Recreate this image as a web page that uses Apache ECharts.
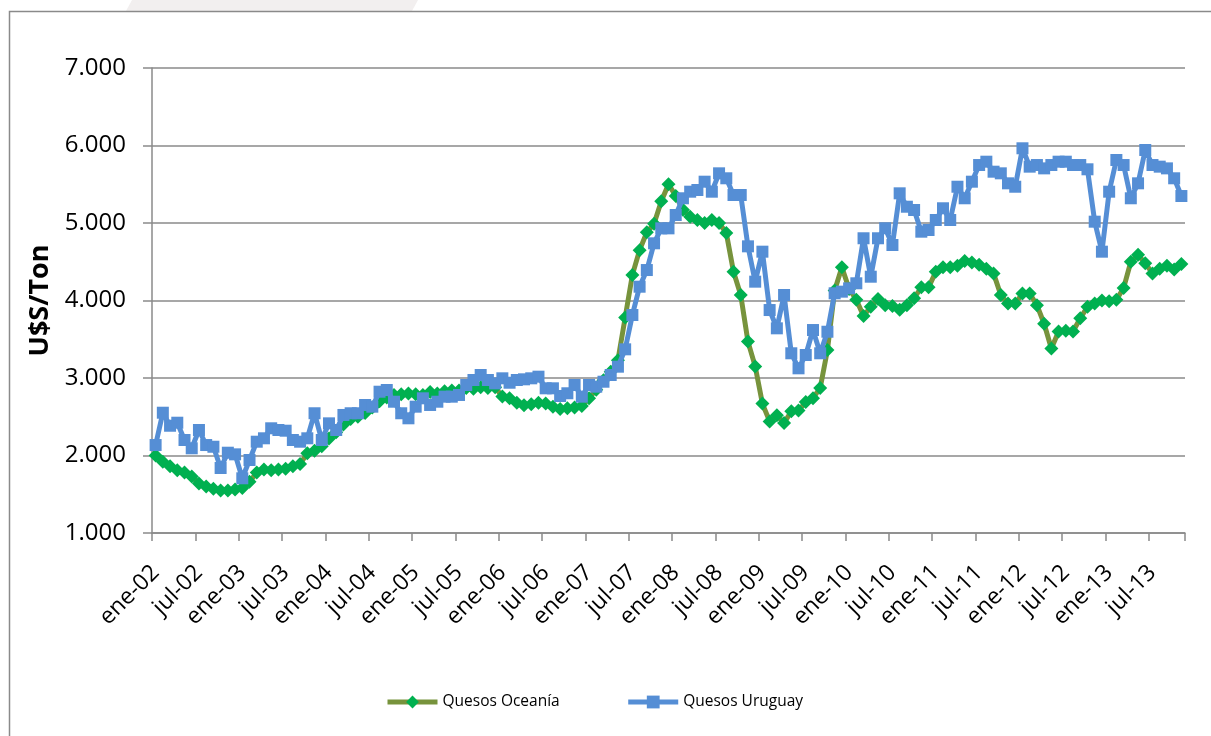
<!DOCTYPE html>
<html>
<head>
<meta charset="utf-8">
<script src="https://cdn.jsdelivr.net/npm/echarts@6/dist/echarts.min.js"></script>
<style>
html,body{margin:0;padding:0;background:#fff;}
#chart{width:1211px;height:736px;}
</style>
</head>
<body>
<div id="chart"></div>
<script>
// Month names and years used for the category labels
const monthNames = ['ene','feb','mar','abr','may','jun','jul','ago','sep','oct','nov','dic'];
const years = ['02','03','04','05','06','07','08','09','10','11','12','13'];
const lastMonthIndex = 10; // the series end in nov-13

const yTicks = [1000, 2000, 3000, 4000, 5000, 6000, 7000];

// Quesos Oceanía (US$/Ton), monthly ene-02 .. nov-13
const quesosOceania = [
  2000,1920,1860,1810,1780,1730,1640,1600,1570,1550,1550,1560,
  1580,1660,1780,1820,1810,1820,1830,1860,1890,2030,2060,2120,
  2220,2300,2400,2470,2500,2550,2620,2700,2750,2780,2790,2800,
  2790,2780,2820,2800,2830,2840,2840,2870,2860,2880,2870,2880,
  2760,2740,2680,2650,2660,2680,2670,2630,2600,2610,2620,2640,
  2740,2850,2970,3080,3230,3780,4330,4650,4880,4990,5280,5500,
  5350,5170,5080,5040,5000,5040,5000,4870,4370,4070,3470,3150,
  2670,2440,2520,2420,2570,2580,2690,2740,2870,3360,4130,4430,
  4150,4010,3800,3920,4020,3940,3930,3880,3940,4030,4170,4170,
  4370,4430,4430,4450,4510,4490,4460,4410,4350,4070,3960,3960,
  4090,4090,3940,3700,3380,3600,3610,3600,3770,3920,3960,4000,
  3990,4010,4160,4500,4590,4480,4350,4410,4450,4400,4470
];

// Quesos Uruguay (US$/Ton), monthly ene-02 .. nov-13
const quesosUruguay = [
  2135,2552,2384,2423,2200,2093,2329,2135,2113,1839,2036,2015,
  1706,1942,2178,2222,2351,2329,2320,2200,2178,2222,2545,2200,
  2415,2329,2523,2545,2545,2652,2630,2823,2845,2694,2545,2480,
  2630,2738,2652,2694,2759,2759,2781,2910,2974,3039,2974,2931,
  2996,2939,2974,2983,2996,3017,2867,2867,2768,2803,2910,2759,
  2910,2888,2952,3039,3146,3370,3813,4178,4393,4738,4931,4931,
  5103,5319,5404,5426,5533,5404,5641,5577,5361,5361,4699,4243,
  4630,3877,3641,4071,3319,3125,3297,3619,3319,3597,4093,4114,
  4157,4222,4803,4307,4803,4932,4716,5383,5210,5168,4888,4910,
  5039,5190,5039,5468,5319,5533,5748,5791,5662,5641,5512,5468,
  5964,5727,5748,5705,5748,5791,5791,5748,5748,5693,5017,4630,
  5404,5813,5748,5319,5512,5942,5748,5727,5705,5577,5348
];

const categories = [];
years.forEach((y, yi) => {
  monthNames.forEach((m, mi) => {
    if (yi === years.length - 1 && mi > lastMonthIndex) return;
    categories.push(m + '-' + y);
  });
});

const FONT = "'Open Sans', 'Liberation Sans', sans-serif";
const GRID_COLOR = '#8a8a8a';

const chart = echarts.init(document.getElementById('chart'), null, {renderer: 'canvas'});
chart.setOption({
  backgroundColor: '#ffffff',
  animation: false,
  textStyle: {fontFamily: FONT},
  graphic: [
    {
      type: 'polygon',
      shape: {points: [[132, 0], [418, 0], [412, 11], [126, 11]]},
      style: {fill: '#f2efef', stroke: null},
      z: 0
    },
    {
      type: 'rect',
      shape: {x: 9.5, y: 11.5, width: 1300, height: 800},
      style: {fill: null, stroke: GRID_COLOR, lineWidth: 1.5},
      z: 1
    }
  ],
  legend: {
    left: 380,
    top: 689,
    itemWidth: 50,
    itemHeight: 16,
    itemGap: 66,
    textStyle: {fontFamily: FONT, fontSize: 15.5, color: '#000'},
    lineStyle: {width: 5},
    data: ['Quesos Oceanía', 'Quesos Uruguay']
  },
  grid: {left: 152, right: 26, top: 68, bottom: 203, containLabel: false},
  xAxis: {
    type: 'category',
    data: categories,
    boundaryGap: true,
    axisLine: {show: true, lineStyle: {color: GRID_COLOR, width: 1.5}},
    axisTick: {show: true, interval: 5, length: 8, alignWithLabel: false, lineStyle: {color: GRID_COLOR, width: 1.5}},
    axisLabel: {interval: 5, rotate: 45, margin: 36, fontSize: 23, color: '#000', fontFamily: FONT},
    splitLine: {show: false}
  },
  yAxis: {
    type: 'value',
    min: yTicks[0],
    max: yTicks[yTicks.length - 1],
    interval: 1000,
    name: 'U$S/Ton',
    nameLocation: 'middle',
    nameGap: 84,
    nameRotate: 90,
    nameTextStyle: {fontFamily: FONT, fontSize: 27, fontWeight: 'bold', color: '#000'},
    axisLine: {show: true, lineStyle: {color: GRID_COLOR, width: 1.5}},
    axisTick: {show: true, length: 9, lineStyle: {color: GRID_COLOR, width: 1.5}},
    axisLabel: {
      margin: 26, fontSize: 24, color: '#000', fontFamily: FONT,
      formatter: v => (v / 1000).toFixed(3)
    },
    splitLine: {show: true, lineStyle: {color: GRID_COLOR, width: 1.5}}
  },
  series: [
    {
      name: 'Quesos Oceanía',
      type: 'line',
      data: quesosOceania,
      symbol: 'diamond',
      symbolSize: 14,
      showAllSymbol: true,
      lineStyle: {color: '#77933c', width: 5},
      itemStyle: {color: '#00b050', borderWidth: 0},
      z: 2
    },
    {
      name: 'Quesos Uruguay',
      type: 'line',
      data: quesosUruguay,
      symbol: 'rect',
      symbolSize: 12,
      showAllSymbol: true,
      lineStyle: {color: '#558ed5', width: 5},
      itemStyle: {color: '#558ed5', borderWidth: 0},
      z: 3
    }
  ]
});
</script>
</body>
</html>
